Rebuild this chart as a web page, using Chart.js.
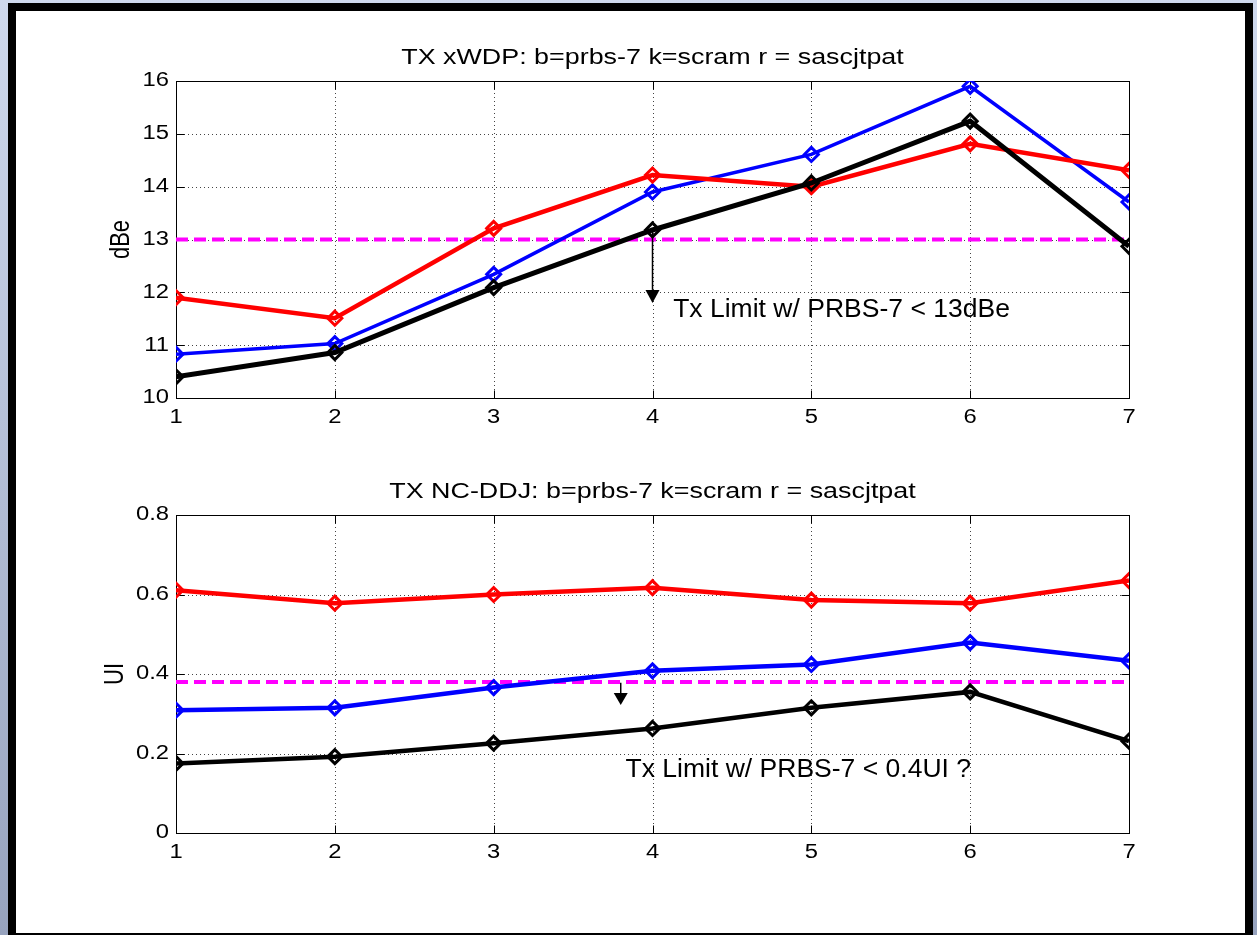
<!DOCTYPE html>
<html>
<head>
<meta charset="utf-8">
<script src="https://cdn.jsdelivr.net/npm/chart.js@4"></script>
<style>
  html, body { margin: 0; padding: 0; }
  body {
    width: 1257px; height: 935px; overflow: hidden; position: relative;
    background: linear-gradient(#cfd9ed, #97a3be);
  }
  #frame {
    position: absolute; left: 8px; top: 3px; width: 1229px; height: 922px;
    border: 8px solid #000; background: #fff;
  }
  canvas { position: absolute; left: 16px; }
  #wdpChart { top: 11px; }
  #ddjChart { top: 471px; }
</style>
</head>
<body>
<div id="frame"></div>
<canvas id="wdpChart" width="1229" height="460"></canvas>
<canvas id="ddjChart" width="1229" height="460"></canvas>
<script>
// test cases along the x axis
const xCases = [1, 2, 3, 4, 5, 6, 7];
const xTicks = [1, 2, 3, 4, 5, 6, 7];

// TX xWDP (dBe)
const wdpPrbs7 = [10.83, 11.03, 12.34, 13.90, 14.61, 15.90, 13.71];
const wdpScram = [10.40, 10.86, 12.09, 13.18, 14.07, 15.24, 12.87];
const wdpSascjtpat = [11.90, 11.51, 13.21, 14.22, 14.00, 14.81, 14.31];
const wdpLimit = 13;
const wdpYTicks = [10, 11, 12, 13, 14, 15, 16];
const wdpYLabels = ["10", "11", "12", "13", "14", "15", "16"];

// TX NC-DDJ (UI)
const ddjPrbs7 = [0.309, 0.315, 0.366, 0.408, 0.424, 0.479, 0.433];
const ddjScram = [0.175, 0.192, 0.226, 0.263, 0.315, 0.355, 0.231];
const ddjSascjtpat = [0.611, 0.578, 0.600, 0.617, 0.586, 0.578, 0.635];
const ddjLimit = 0.38;
const ddjYTicks = [0, 0.2, 0.4, 0.6, 0.8];
const ddjYLabels = ["0", "0.2", "0.4", "0.6", "0.8"];

// limit notes: arrow (x, from, to) and text anchor (x, y)
const wdpArrow = [4, 13.15, 11.8];
const wdpNote = [4.13, 11.66, "Tx Limit w/ PRBS-7 < 13dBe"];
const ddjArrow = [3.8, 0.378, 0.322];
const ddjNote = [3.83, 0.158, "Tx Limit w/ PRBS-7 < 0.4UI ?"];

const FONT = "'Liberation Sans', Arial, Helvetica, sans-serif";
const STRETCH = 1.22; // the figure text is a bit wide

function pts(ys) {
  return xCases.map((x, i) => ({ x: x, y: ys[i] }));
}

function wideText(ctx, txt, x, y, size, align, sx, rot) {
  ctx.save();
  ctx.translate(x, y);
  ctx.scale(sx, 1);
  if (rot) ctx.rotate(rot);
  ctx.font = size + "px " + FONT;
  ctx.fillStyle = "#000";
  ctx.textAlign = align;
  ctx.textBaseline = "middle";
  ctx.fillText(txt, 0, 0);
  ctx.restore();
}

// matlab style axes: dotted grid, box with inward ticks, labels
const matlabAxes = {
  id: "matlabAxes",
  beforeDatasetsDraw(chart, args, o) {
    const ctx = chart.ctx, a = chart.chartArea;
    const xs = chart.scales.x, ys = chart.scales.y;
    ctx.save();
    ctx.strokeStyle = "#444";
    ctx.lineWidth = 1;
    ctx.setLineDash([1, 3]);
    ctx.beginPath();
    xTicks.slice(1, -1).forEach(v => {
      const px = Math.round(xs.getPixelForValue(v)) + 0.5;
      ctx.moveTo(px, a.top); ctx.lineTo(px, a.bottom);
    });
    o.yTicks.slice(1, -1).forEach(v => {
      const py = Math.round(ys.getPixelForValue(v)) + 0.5;
      ctx.moveTo(a.left, py); ctx.lineTo(a.right, py);
    });
    ctx.stroke();
    ctx.setLineDash([]);
    ctx.strokeStyle = "#000";
    const L = Math.round(a.left) + 0.5, R = Math.round(a.right) + 0.5;
    const T = Math.round(a.top) + 0.5, B = Math.round(a.bottom) + 0.5;
    ctx.strokeRect(L, T, R - L, B - T);
    ctx.beginPath();
    xTicks.forEach(v => {
      const px = Math.round(xs.getPixelForValue(v)) + 0.5;
      ctx.moveTo(px, B); ctx.lineTo(px, B - 8);
      ctx.moveTo(px, T); ctx.lineTo(px, T + 8);
    });
    o.yTicks.forEach(v => {
      const py = Math.round(ys.getPixelForValue(v)) + 0.5;
      ctx.moveTo(L, py); ctx.lineTo(L + 8, py);
      ctx.moveTo(R, py); ctx.lineTo(R - 8, py);
    });
    ctx.stroke();
    ctx.restore();
  },
  afterDraw(chart, args, o) {
    const ctx = chart.ctx, a = chart.chartArea;
    const xs = chart.scales.x, ys = chart.scales.y;
    xTicks.forEach(v => wideText(ctx, String(v), xs.getPixelForValue(v), a.bottom + 20, 19.5, "center", STRETCH));
    o.yTicks.forEach((v, i) => wideText(ctx, o.yLabels[i], a.left - 7, ys.getPixelForValue(v), 19.5, "right", STRETCH));
    wideText(ctx, o.title, (a.left + a.right) / 2, a.top - 23, 21.5, "center", 1.25);
    wideText(ctx, o.yTitle, a.left - o.yTitleGap, (a.top + a.bottom) / 2, 22, "center", 1.25, -Math.PI / 2);

    // limit arrow and note
    const ax = xs.getPixelForValue(o.arrow[0]);
    const y0 = ys.getPixelForValue(o.arrow[1]), y1 = ys.getPixelForValue(o.arrow[2]);
    ctx.save();
    ctx.strokeStyle = "#000";
    ctx.fillStyle = "#000";
    ctx.lineWidth = 1.5;
    ctx.beginPath();
    ctx.moveTo(ax, y0); ctx.lineTo(ax, y1 - o.headH);
    ctx.stroke();
    ctx.beginPath();
    ctx.moveTo(ax - 7, y1 - o.headH);
    ctx.lineTo(ax + 7, y1 - o.headH);
    ctx.lineTo(ax, y1);
    ctx.closePath();
    ctx.fill();
    ctx.restore();
    wideText(ctx, o.note[2], xs.getPixelForValue(o.note[0]), ys.getPixelForValue(o.note[1]), 26, "left", 1.02);
  }
};

function series(data, color, width) {
  return {
    data: data,
    borderColor: color,
    borderWidth: width,
    pointStyle: "rectRot",
    pointRadius: 7,
    pointBorderWidth: 3,
    pointBorderColor: color,
    pointBackgroundColor: "rgba(0,0,0,0)",
    tension: 0
  };
}

function limitLine(v) {
  return {
    data: [{ x: xCases[0], y: v }, { x: xCases[xCases.length - 1], y: v }],
    borderColor: "#ff00ff",
    borderWidth: 4,
    borderDash: [12, 6],
    pointRadius: 0
  };
}

function makePlot(id, sets, yMin, yMax, pad, axesOpts) {
  new Chart(document.getElementById(id), {
    type: "line",
    data: { datasets: sets },
    options: {
      responsive: false,
      animation: false,
      events: [],
      layout: { padding: pad },
      plugins: {
        legend: { display: false },
        tooltip: { enabled: false },
        matlabAxes: axesOpts
      },
      scales: {
        x: { type: "linear", display: false, min: 1, max: 7 },
        y: { type: "linear", display: false, min: yMin, max: yMax }
      }
    },
    plugins: [matlabAxes]
  });
}

makePlot("wdpChart", [
  series(pts(wdpScram), "#000000", 5),
  series(pts(wdpSascjtpat), "#ff0000", 4.5),
  series(pts(wdpPrbs7), "#0000ff", 3.5),
  limitLine(wdpLimit)
], 10, 16, { left: 160, right: 116, top: 70, bottom: 73 }, {
  yTicks: wdpYTicks, yLabels: wdpYLabels,
  title: "TX xWDP: b=prbs-7 k=scram r = sascjtpat", yTitle: "dBe", yTitleGap: 55,
  arrow: wdpArrow, headH: 13, note: wdpNote
});

makePlot("ddjChart", [
  series(pts(ddjScram), "#000000", 4.5),
  series(pts(ddjSascjtpat), "#ff0000", 4.5),
  series(pts(ddjPrbs7), "#0000ff", 4.5),
  limitLine(ddjLimit)
], 0, 0.8, { left: 160, right: 116, top: 44, bottom: 98 }, {
  yTicks: ddjYTicks, yLabels: ddjYLabels,
  title: "TX NC-DDJ: b=prbs-7 k=scram r = sascjtpat", yTitle: "UI", yTitleGap: 61,
  arrow: ddjArrow, headH: 12, note: ddjNote
});
</script>
</body>
</html>
